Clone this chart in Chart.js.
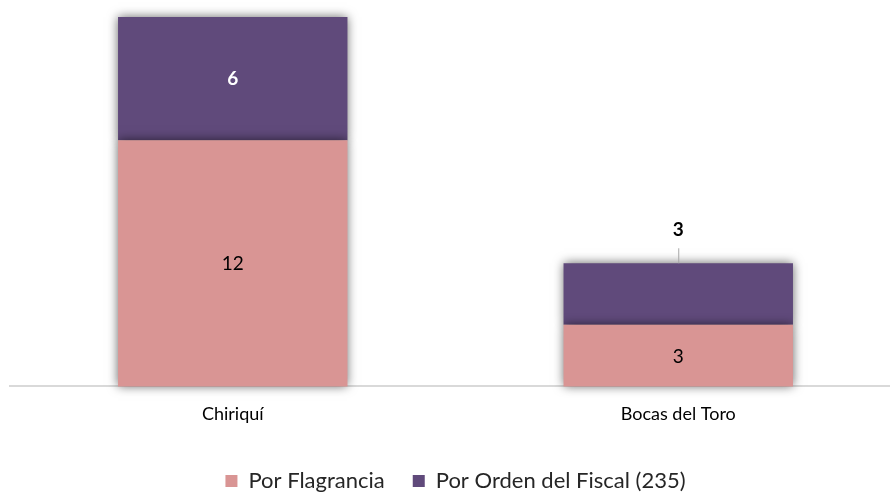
<!DOCTYPE html>
<html><head><meta charset="utf-8">
<script src="https://cdn.jsdelivr.net/npm/chart.js@4/dist/chart.umd.min.js"></script>
<style>html,body{margin:0;padding:0;overflow:hidden;background:#fff;width:890px;height:502px}#w{width:901px;height:502px}</style>
</head><body><div id="w"><canvas id="c"></canvas></div>
<script>
const categories = ["Chiriquí", "Bocas del Toro"];
const flagrancia = [12, 3];
const ordenFiscal = [6, 3];
const seriesNames = ["Por Flagrancia", "Por Orden del Fiscal (235)"];
const FONT = "Lato, 'Open Sans', sans-serif";

const shadowPlugin = {
  id: 'shadow',
  beforeDatasetsDraw(chart) {
    const ctx = chart.ctx;
    ctx.save();
    ctx.shadowColor = 'rgba(0,0,0,0.6)';
    ctx.shadowBlur = 10;
    ctx.shadowOffsetX = 0;
    ctx.shadowOffsetY = 0;
  },
  afterDatasetsDraw(chart) {
    const ctx = chart.ctx;
    ctx.restore();
    ctx.save();
    ctx.textAlign = 'center';
    ctx.textBaseline = 'middle';
    chart.data.datasets.forEach((ds, di) => {
      const meta = chart.getDatasetMeta(di);
      meta.data.forEach((bar, i) => {
        const v = ds.data[i];
        const midY = (bar.y + bar.base) / 2;
        if (di === 0) {
          ctx.font = "19px " + FONT;
          ctx.fillStyle = '#000';
          ctx.fillText(String(v), bar.x, midY + 1);
        } else if (i === 0) {
          ctx.font = "bold 19px " + FONT;
          ctx.fillStyle = '#fff';
          ctx.fillText(String(v), bar.x, midY);
        } else {
          ctx.strokeStyle = '#a6a6a6';
          ctx.lineWidth = 1;
          ctx.beginPath();
          ctx.moveTo(bar.x + 0.5, bar.y - 15);
          ctx.lineTo(bar.x + 0.5, bar.y);
          ctx.stroke();
          ctx.font = "bold 19px " + FONT;
          ctx.fillStyle = '#000';
          ctx.fillText(String(v), bar.x, bar.y - 33);
        }
      });
    });
    ctx.restore();
  }
};

new Chart(document.getElementById('c'), {
  type: 'bar',
  data: {
    labels: categories,
    datasets: [
      { label: seriesNames[0], data: flagrancia, backgroundColor: '#D99594', clip: false },
      { label: seriesNames[1], data: ordenFiscal, backgroundColor: '#604A7B', clip: false }
    ]
  },
  options: {
    responsive: true,
    maintainAspectRatio: false,
    animation: false,
    layout: { padding: { top: 17, left: 10, right: 0, bottom: 0 } },
    categoryPercentage: 1,
    barPercentage: 0.515,
    scales: {
      x: {
        stacked: true,
        grid: { display: false, drawTicks: false },
        border: { display: true, color: '#d9d9d9', width: 2 },
        ticks: { padding: 17, color: '#000', font: { family: FONT, size: 18 } }
      },
      y: {
        stacked: true,
        display: false,
        min: 0,
        max: 18
      }
    },
    plugins: {
      tooltip: { enabled: false },
      legend: {
        position: 'bottom',
        labels: {
          color: '#262626',
          font: { family: FONT, size: 22 },
          boxWidth: 12,
          boxHeight: 12,
          padding: 28
        }
      }
    }
  },
  plugins: [shadowPlugin]
});
</script>
</body></html>
